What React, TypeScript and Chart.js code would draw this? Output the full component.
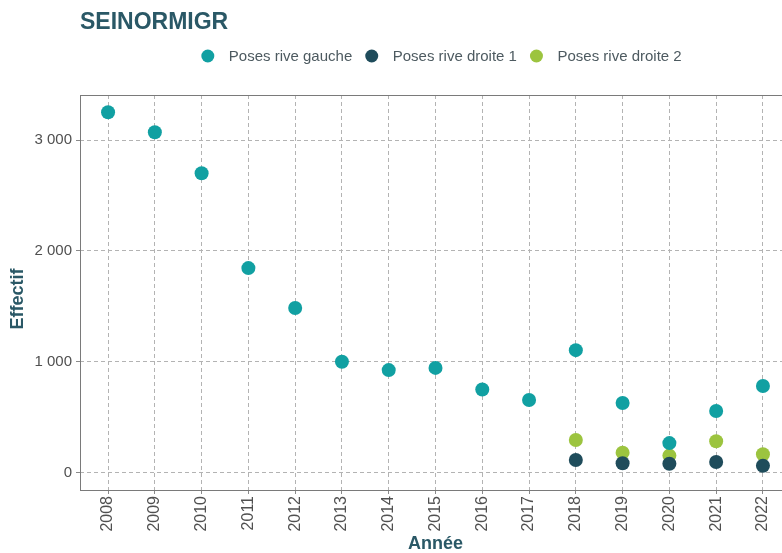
import React, { useEffect, useRef } from "react";
import { Chart, registerables } from "chart.js";

Chart.register(...registerables);

const TITLE = "SEINORMIGR";
const years = [2008, 2009, 2010, 2011, 2012, 2013, 2014, 2015, 2016, 2017, 2018, 2019, 2020, 2021, 2022];
const riveGauche = [3250, 3070, 2700, 1845, 1485, 1000, 925, 945, 750, 655, 1105, 628, 267, 556, 782];
const droiteYears = [2018, 2019, 2020, 2021, 2022];
const riveDroite1 = [115, 85, 81, 97, 63];
const riveDroite2 = [295, 181, 154, 284, 166];
const yTicks = [0, 1000, 2000, 3000];
const seriesNames = ["Poses rive gauche", "Poses rive droite 1", "Poses rive droite 2"];
const colors = ["#11a0a2", "#1f4c5b", "#9cc43f"];

const FONT = "'Liberation Sans', Arial, sans-serif";
const DARK = "#2a5866";
const TICK_COLOR = "#505050";

const fmt = (v: number) => String(Math.round(v)).replace(/\B(?=(\d{3})+(?!\d))/g, " ");

const decoPlugin = {
  id: "deco",
  beforeDatasetsDraw(chart: any) {
    const { ctx, chartArea } = chart;
    ctx.save();
    ctx.strokeStyle = "#7a7a7a";
    ctx.lineWidth = 1;
    ctx.strokeRect(chartArea.left + 0.5, chartArea.top + 0.5, chartArea.right - chartArea.left - 1, chartArea.bottom - chartArea.top);
    ctx.restore();
  },
  afterDraw(chart: any) {
    const { ctx, chartArea } = chart;
    ctx.save();
    // title
    ctx.font = `bold 23px ${FONT}`;
    ctx.fillStyle = DARK;
    ctx.textBaseline = "alphabetic";
    ctx.textAlign = "left";
    ctx.fillText(TITLE, chartArea.left, 29);
    // y axis title
    ctx.save();
    ctx.translate(18, 299);
    ctx.rotate(-Math.PI / 2);
    ctx.font = `bold 18px ${FONT}`;
    ctx.textAlign = "center";
    ctx.textBaseline = "middle";
    ctx.fillStyle = DARK;
    ctx.fillText("Effectif", 0, 0);
    ctx.restore();
    // legend
    ctx.font = `15px ${FONT}`;
    ctx.textAlign = "left";
    const r = 6.5;
    const gapText = 21;
    const gapItem = 19.5;
    const widths = seriesNames.map((n) => ctx.measureText(n).width);
    let total = 0;
    widths.forEach((w, i) => {
      total += r + gapText + w + (i < widths.length - 1 ? gapItem : 0);
    });
    let cx = 448 - total / 2 + r;
    const cy = 56;
    seriesNames.forEach((n, i) => {
      ctx.beginPath();
      ctx.arc(cx, cy, r, 0, Math.PI * 2);
      ctx.fillStyle = colors[i];
      ctx.fill();
      ctx.fillStyle = "#4d5a60";
      ctx.textBaseline = "middle";
      ctx.fillText(n, cx + gapText, cy + 1);
      cx = cx + gapText + widths[i] + gapItem;
    });
    ctx.restore();
  },
};

export default function App() {
  const ref = useRef<HTMLCanvasElement | null>(null);
  useEffect(() => {
    if (!ref.current) return;
    const chart = new Chart(ref.current, {
      type: "scatter",
      data: {
        datasets: [
          {
            label: seriesNames[0],
            data: years.map((x, i) => ({ x, y: riveGauche[i] })),
            backgroundColor: colors[0],
            borderColor: colors[0],
            pointRadius: 7,
            borderWidth: 0,
          },
          {
            label: seriesNames[1],
            data: droiteYears.map((x, i) => ({ x, y: riveDroite1[i] })),
            backgroundColor: colors[1],
            borderColor: colors[1],
            pointRadius: 7,
            borderWidth: 0,
          },
          {
            label: seriesNames[2],
            data: droiteYears.map((x, i) => ({ x, y: riveDroite2[i] })),
            backgroundColor: colors[2],
            borderColor: colors[2],
            pointRadius: 7,
            borderWidth: 0,
          },
        ],
      },
      options: {
        responsive: false,
        animation: false,
        devicePixelRatio: 1,
        layout: { padding: { top: 95, left: 0, right: 9, bottom: 0 } },
        plugins: {
          legend: { display: false },
          title: { display: false },
          tooltip: { enabled: false },
        },
        scales: {
          x: {
            type: "linear",
            min: 2007.4,
            max: 2022.6,
            afterBuildTicks: (scale: any) => {
              scale.ticks = years.map((v) => ({ value: v }));
            },
            afterFit: (scale: any) => {
              scale.height = 63;
            },
            grid: {
              color: "#b3b3b3",
              lineWidth: 1,
              drawTicks: true,
              tickLength: 4,
              tickColor: "#8a8a8a",
              tickWidth: 1,
            },
            border: { display: false, dash: [4, 3] },
            ticks: {
              autoSkip: false,
              maxRotation: 90,
              minRotation: 90,
              padding: 2,
              color: TICK_COLOR,
              font: { family: FONT, size: 16 },
              callback: (v: any) => String(v),
            },
            title: {
              display: true,
              text: "Année",
              color: DARK,
              font: { family: FONT, size: 18, weight: "bold", lineHeight: 1 },
              padding: { top: 0, bottom: 0 },
            },
          },
          y: {
            type: "linear",
            min: -156,
            max: 3406,
            afterBuildTicks: (scale: any) => {
              scale.ticks = yTicks.map((v) => ({ value: v }));
            },
            afterFit: (scale: any) => {
              scale.width = 80;
            },
            grid: {
              color: "#b3b3b3",
              lineWidth: 1,
              drawTicks: true,
              tickLength: 4,
              tickColor: "#8a8a8a",
              tickWidth: 1,
            },
            border: { display: false, dash: [4, 3] },
            ticks: {
              padding: 4,
              color: TICK_COLOR,
              font: { family: FONT, size: 15 },
              callback: (v: any) => fmt(Number(v)),
            },
            title: { display: false },
          },
        },
      },
      plugins: [decoPlugin],
    } as any);
    return () => chart.destroy();
  }, []);
  return (
    <div style={{ position: "absolute", left: 0, top: 0, width: 782, height: 553, overflow: "hidden", background: "#fff" }}>
      <canvas ref={ref} width={800} height={553} style={{ display: "block", width: 800, height: 553 }} />
    </div>
  );
}
